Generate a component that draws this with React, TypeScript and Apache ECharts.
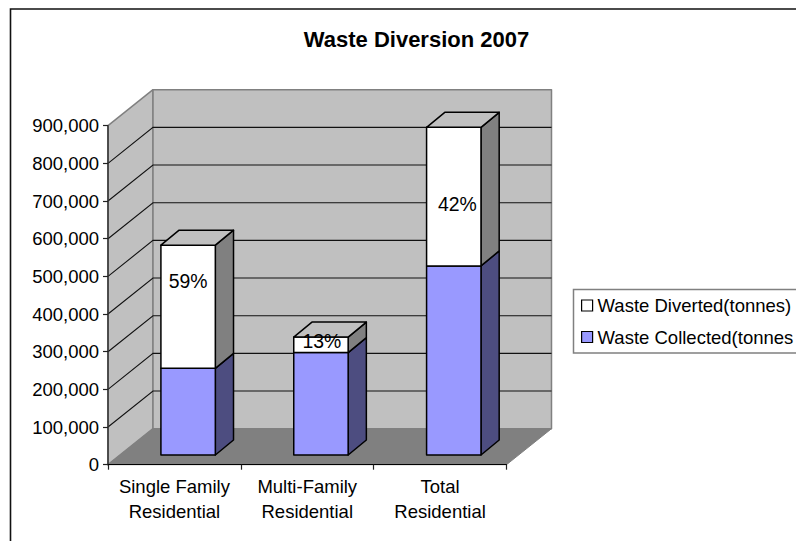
import React, { useEffect, useRef } from "react";
import * as echarts from "echarts";

const categories = ["Single Family\nResidential", "Multi-Family\nResidential", "Total\nResidential"];
const collected = [230000, 272000, 502000];
const diverted = [327000, 41000, 368000];
const percentLabels = ["59%", "13%", "42%"];
const percentLabelLevels = [462000, 302000, 666000];
const wallGridLevels = [100000, 200000, 300000, 400000, 500000, 600000, 700000, 800000];
const COLLECTED_NAME = "Waste Collected(tonnes";
const DIVERTED_NAME = "Waste Diverted(tonnes)";

const FONT = "'Liberation Sans', Arial, sans-serif";
const LABEL_SIZE = 18.5;
const PERCENT_SIZE = 19.4;
const INK = "#000000";

// Oblique projection used for the box: how far the back wall sits from the front edge,
// how far a bar is set in from the front edge, and how deep a bar is.
const WALL = { dx: 45, dy: -36 };
const INSET = { dx: 13.7, dy: -9.7 };
const BAR = { dx: 18.2, dy: -15, width: 54.4 };

// The last percentage sits a little right of its bar's centre.
const labelNudge = (idx: number) => (idx === 2 ? 3.5 : idx === 1 ? 1 : 0);

const poly = (points: number[][], fill: string, stroke: string, lineWidth: number) => ({
  type: "polygon",
  shape: { points },
  style: { fill, stroke, lineWidth, lineJoin: "round" },
});

const renderBox = (params: any, api: any) => {
  const { x, width } = params.coordSys;
  const yBase = api.coord([0, 0])[1];
  const yTop = api.coord([0, 900000])[1];
  const edge = "#808080";
  const x0 = x;
  const x1 = x + width;
  const { dx, dy } = WALL;
  const children: any[] = [
    poly([[x0, yBase], [x0 + dx, yBase + dy], [x0 + dx, yTop + dy], [x0, yTop]], "#c0c0c0", edge, 1.5),
    poly([[x0 + dx, yBase + dy], [x1 + dx, yBase + dy], [x1 + dx, yTop + dy], [x0 + dx, yTop + dy]], "#c0c0c0", edge, 1.5),
    poly([[x0, yBase], [x1, yBase], [x1 + dx, yBase + dy], [x0 + dx, yBase + dy]], "#808080", "#808080", 1),
  ];
  wallGridLevels.forEach((level) => {
    const y = api.coord([0, level])[1];
    children.push({
      type: "polyline",
      shape: { points: [[x0, y], [x0 + dx, y + dy], [x1 + dx, y + dy]] },
      style: { fill: "none", stroke: "#111111", lineWidth: 1.1 },
    });
  });
  return { type: "group", children };
};

const barFaces = (api: any, from: number, to: number, front: string, side: string, withTop: boolean) => {
  const idx = api.value(0);
  const [cx, yFrom] = api.coord([idx, from]);
  const yTo = api.coord([idx, to])[1];
  const left = cx + INSET.dx - BAR.width / 2;
  const right = left + BAR.width;
  const bottom = yFrom + INSET.dy;
  const top = yTo + INSET.dy;
  const faces: any[] = [
    poly([[right, bottom], [right + BAR.dx, bottom + BAR.dy], [right + BAR.dx, top + BAR.dy], [right, top]], side, INK, 1.5),
    poly([[left, bottom], [right, bottom], [right, top], [left, top]], front, INK, 1.5),
  ];
  if (withTop) {
    faces.push(poly([[left, top], [right, top], [right + BAR.dx, top + BAR.dy], [left + BAR.dx, top + BAR.dy]], "#c0c0c0", INK, 1.5));
  }
  return faces;
};

const renderCollected = (_params: any, api: any) => ({
  type: "group",
  children: barFaces(api, 0, api.value(1), "#9999ff", "#4d4d80", false),
});

const renderDiverted = (_params: any, api: any) => {
  const idx = api.value(0);
  const base = collected[idx];
  const [cx, yLabel] = api.coord([idx, percentLabelLevels[idx]]);
  return {
    type: "group",
    children: [
      ...barFaces(api, base, base + api.value(1), "#ffffff", "#808080", true),
      {
        type: "text",
        z2: 10,
        style: {
          x: cx + INSET.dx + labelNudge(idx),
          y: yLabel + INSET.dy,
          text: percentLabels[idx],
          fill: INK,
          font: `${PERCENT_SIZE}px ${FONT}`,
          align: "center",
          verticalAlign: "middle",
        },
      },
    ],
  };
};

export default function App() {
  const ref = useRef<HTMLDivElement>(null);

  useEffect(() => {
    const chart = echarts.init(ref.current!, undefined, { renderer: "svg" });
    chart.setOption({
      animation: false,
      backgroundColor: "#ffffff",
      title: {
        text: "Waste Diversion 2007",
        left: 411.5,
        top: 23,
        textAlign: "center",
        textStyle: { fontFamily: FONT, fontSize: 22, fontWeight: "bold", color: INK },
      },
      legend: {
        left: 573.5,
        top: 289.5,
        orient: "vertical",
        selectedMode: false,
        backgroundColor: "#ffffff",
        borderColor: "#808080",
        borderWidth: 1.5,
        padding: [5.5, 20, 5.5, 7.5],
        itemGap: 10.5,
        itemWidth: 11,
        itemHeight: 11,
        textStyle: { fontFamily: FONT, fontSize: LABEL_SIZE, color: INK, lineHeight: 21 },
        data: [
          { name: DIVERTED_NAME, icon: "rect", itemStyle: { color: "#ffffff", borderColor: INK, borderWidth: 1.2 } },
          { name: COLLECTED_NAME, icon: "rect", itemStyle: { color: "#9999ff", borderColor: INK, borderWidth: 1.2 } },
        ],
      },
      grid: { left: 108, width: 398.5, top: 125.7, height: 339 },
      xAxis: {
        type: "category",
        data: categories,
        z: 5,
        axisLine: { show: true, lineStyle: { color: INK, width: 1.2 } },
        axisTick: { show: true, alignWithLabel: false, length: 5, lineStyle: { color: "#222222", width: 1.2 } },
        axisLabel: {
          interval: 0,
          margin: 9,
          fontFamily: FONT,
          fontSize: LABEL_SIZE,
          lineHeight: 25,
          color: INK,
        },
      },
      yAxis: {
        type: "value",
        min: 0,
        max: 900000,
        interval: 100000,
        z: 5,
        splitLine: { show: false },
        axisLine: { show: true, lineStyle: { color: "#333333", width: 1.5 } },
        axisTick: { show: true, length: 5, lineStyle: { color: "#222222", width: 1.2 } },
        axisLabel: {
          margin: 9,
          fontFamily: FONT,
          fontSize: LABEL_SIZE,
          color: INK,
          formatter: (v: number) => v.toLocaleString("en-US"),
        },
      },
      graphic: [
        {
          type: "polyline",
          shape: { points: [[10.5, 541], [10.5, 9], [796, 9]] },
          style: { fill: "none", stroke: "#111111", lineWidth: 1.6 },
        },
      ],
      series: [
        { type: "custom", name: "box", z: -1, silent: true, renderItem: renderBox, data: [[0, 0]] },
        {
          type: "custom",
          name: COLLECTED_NAME,
          z: 2,
          renderItem: renderCollected,
          itemStyle: { color: "#9999ff" },
          data: collected.map((v, i) => [i, v]),
        },
        {
          type: "custom",
          name: DIVERTED_NAME,
          z: 3,
          renderItem: renderDiverted,
          itemStyle: { color: "#ffffff" },
          data: diverted.map((v, i) => [i, v]),
        },
      ],
    });
    return () => chart.dispose();
  }, []);

  return <div ref={ref} style={{ position: "absolute", left: 0, top: 0, width: 796, height: 541 }} />;
}
